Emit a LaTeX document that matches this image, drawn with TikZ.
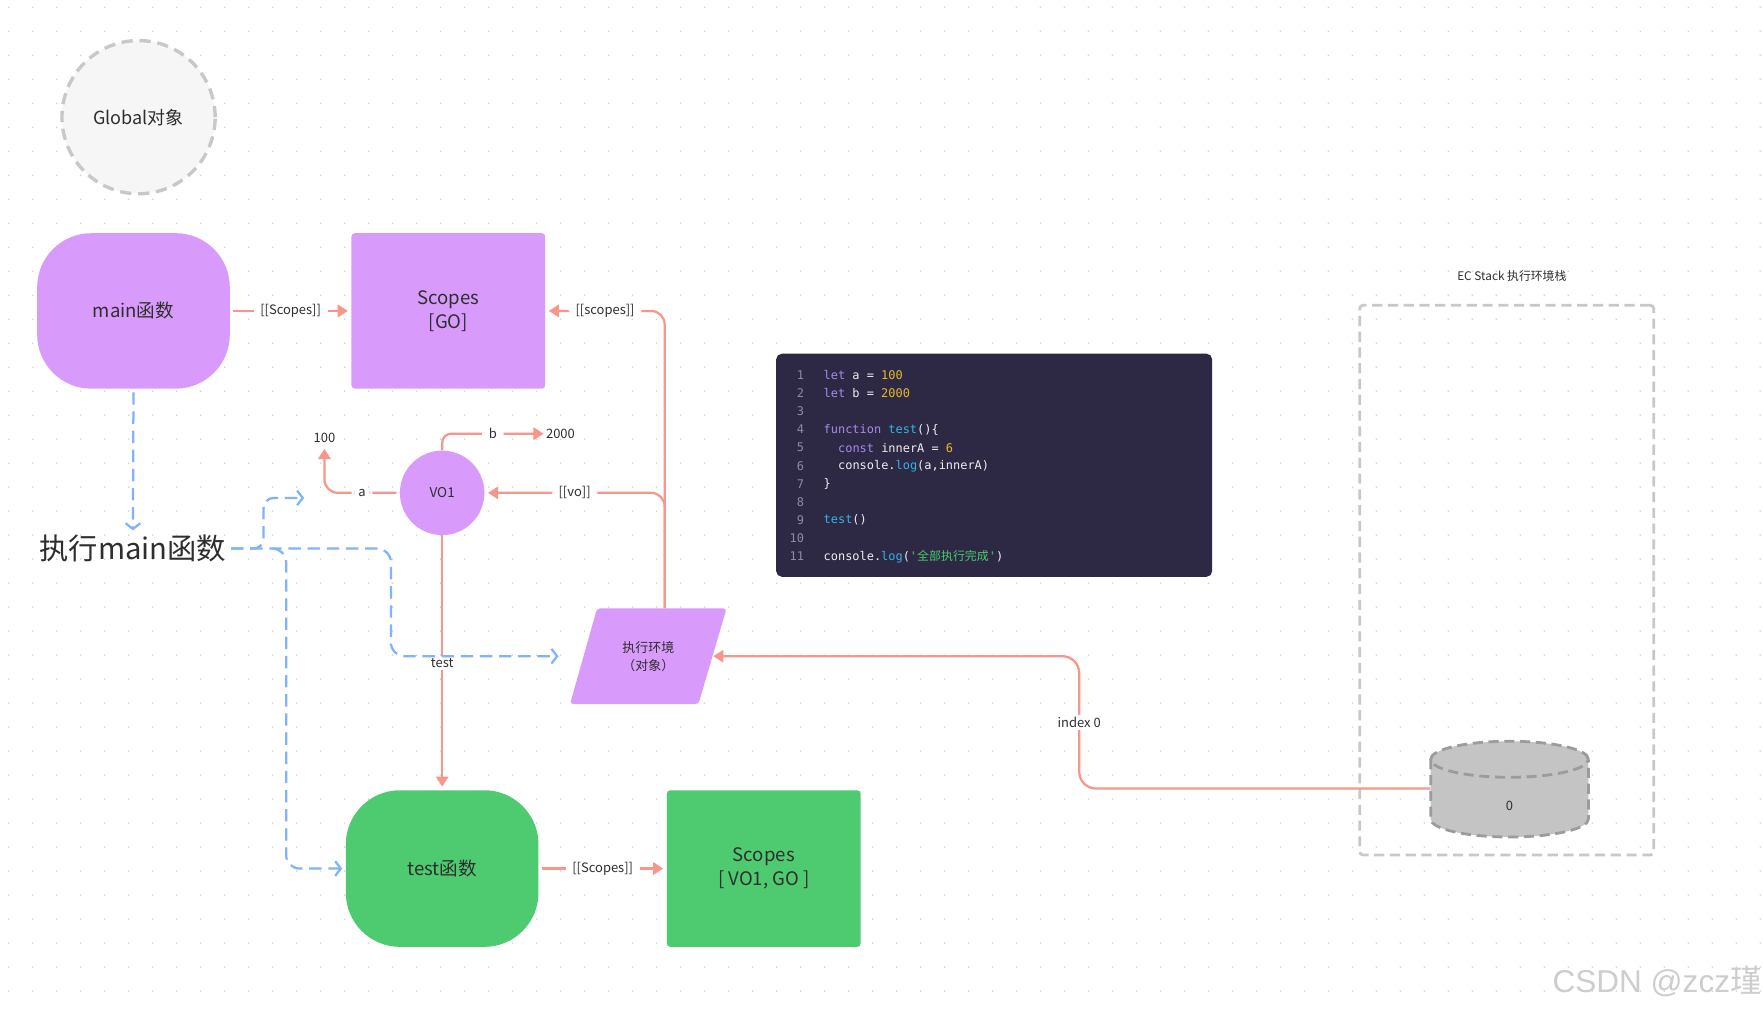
\documentclass[tikz,border=0pt]{standalone}
\usepackage{fontspec}
\setmainfont{Noto Sans CJK SC}
\newfontfamily\cjkfont{Noto Sans CJK SC}
\newfontfamily\codefont{DejaVu Sans Mono}[Ligatures=TeXOff]
\newfontfamily\wmfont{Liberation Sans}
\usetikzlibrary{arrows.meta,shapes.geometric}
\definecolor{purp}{HTML}{D99BFB}
\definecolor{grn}{HTML}{4ECB71}
\definecolor{salmon}{HTML}{F9968C}
\definecolor{bluec}{HTML}{80B2FF}
\definecolor{txt}{HTML}{2E2E2E}
\definecolor{dotc}{HTML}{D3D3D3}
\definecolor{dashgray}{HTML}{C8C8C8}
\definecolor{globfill}{HTML}{F6F6F6}
\definecolor{codebg}{HTML}{2D2843}
\definecolor{kwcol}{HTML}{A78BEA}
\definecolor{numcol}{HTML}{E8BA26}
\definecolor{fncol}{HTML}{33B5E5}
\definecolor{strcol}{HTML}{46CC6C}
\definecolor{plaincol}{HTML}{EEEEF2}
\definecolor{lncol}{HTML}{8E8BA3}
\definecolor{cylfill}{HTML}{C4C4C4}
\definecolor{cylline}{HTML}{9C9C9C}
\definecolor{wmcol}{HTML}{CDCDCD}
\newcommand\kwx[1]{\textcolor{kwcol}{#1}}
\newcommand\numx[1]{\textcolor{numcol}{#1}}
\newcommand\fnx[1]{\textcolor{fncol}{#1}}
\newcommand\strx[1]{\textcolor{strcol}{#1}}
\tikzset{
  shapebig/.style={text=txt, font=\fontsize{16.5}{21}\selectfont, align=center, inner sep=0pt},
  pnode/.style={shapebig, fill=purp},
  gnode/.style={shapebig, fill=grn},
  lbl/.style={fill=white, text=txt, font=\fontsize{11.5}{13}\selectfont, inner xsep=6pt, inner ysep=2pt},
  plain/.style={text=txt, font=\fontsize{11.5}{13}\selectfont, inner sep=2pt},
  conn/.style={draw=salmon, line width=2pt, -{Triangle[length=9pt,width=11pt]}},
  bconn/.style={draw=bluec, line width=2pt, dash pattern=on 11pt off 6pt, -{Straight Barb[length=5pt,width=13pt]}},
  codeln/.style={anchor=east, inner sep=0pt, text=lncol, font=\codefont\fontsize{10.6}{12}\selectfont},
  codetx/.style={anchor=west, inner sep=0pt, text=plaincol, font=\codefont\fontsize{10.6}{12}\selectfont},
  graydash/.style={draw=dashgray, line width=2.5pt, dash pattern=on 9pt off 5pt},
}
\begin{document}
\begin{tikzpicture}[x=1pt,y=-1pt]
\useasboundingbox (0,0) rectangle (1565,896.6);
\fill[white] (0,0) rectangle (1565,896.6);
\foreach \i in {0,...,73} {
  \foreach \j in {0,...,41} {
    \fill[dotc] (7.7+21.3*\i, 6.5+21.3*\j) circle[radius=0.8pt];
  }
}
% Global object
\node[circle, minimum size=136pt, inner sep=0pt, fill=globfill, draw=dashgray, line width=3pt, dash pattern=on 10pt off 6pt, text=txt, font=\fontsize{16}{19}\selectfont] (glob) at (123,104) {Global对象};
% main function and its scopes
\node[pnode, rounded corners=48pt, minimum width=171pt, minimum height=138pt] (main) at (118.5,276) {main函数};
\node[pnode, rounded corners=3pt, minimum width=172pt, minimum height=138pt] (scgo) at (398,276) {Scopes\\{}[GO]};
% execute main text
\node[text=txt, font=\fontsize{26}{30}\selectfont, inner sep=2pt] (exec) at (118,487) {执行main函数};
% VO1 and values
\node[circle, fill=purp, minimum size=75pt, inner sep=0pt, text=txt, font=\fontsize{12}{14}\selectfont] (vo1) at (392.5,437.5) {VO1};
\node[plain] (v100) at (288,389) {100};
\node[plain] (v2000) at (497.5,385) {2000};
% execution context (parallelogram)
\fill[purp, rounded corners=3pt] (506,625) -- (530,540) -- (645,540) -- (620,625) -- cycle;
\node[minimum width=115pt, minimum height=85pt, inner sep=0pt, text=txt, font=\fontsize{11.5}{16}\selectfont, align=center] (para) at (575.5,582.5) {执行环境\\（对象）};
% test function and its scopes
\node[gnode, rounded corners=48pt, minimum width=171pt, minimum height=139pt] (testfn) at (392.5,771) {test函数};
\node[gnode, rounded corners=3pt, minimum width=172pt, minimum height=139pt] (sc2) at (678,771) {Scopes\\{}[ VO1, GO ]};
% code block
\node[fill=codebg, rounded corners=5pt, minimum width=387pt, minimum height=198pt, inner sep=0pt] (code) at (882.5,413) {};
\foreach \k in {1,...,11} {
  \node[codeln] (ln\k) at (714,{333+16.1*(\k-1)}) {\k};
}
\node[codetx] (t1) at (731,333) {\kwx{let} a = \numx{100}};
\node[codetx] (t2) at (731,349.1) {\kwx{let} b = \numx{2000}};
\node[codetx] (t4) at (731,381.3) {\kwx{function} \fnx{test}()\{};
\node[codetx] (t5) at (743.8,397.4) {\kwx{const} innerA = \numx{6}};
\node[codetx] (t6) at (743.8,413.5) {console.\fnx{log}(a,innerA)};
\node[codetx] (t7) at (731,429.6) {\}};
\node[codetx] (t9) at (731,461.8) {\fnx{test}()};
\node[codetx] (t11) at (731,494) {console.\fnx{log}(\strx{'{\cjkfont 全部执行完成}'})};
% EC stack
\node[text=txt, font=\fontsize{10.5}{12}\selectfont, inner sep=1pt] (eclbl) at (1342,245) {EC Stack 执行环境栈};
\node[graydash, rounded corners=3pt, minimum width=261pt, minimum height=488pt, inner sep=0pt] (ecbox) at (1337.5,515) {};
% cylinder
\fill[cylfill] (1270,674) -- (1270,727) arc[start angle=180,end angle=360,x radius=70pt,y radius=16pt] -- (1410,674) arc[start angle=0,end angle=180,x radius=70pt,y radius=16pt] -- cycle;
\draw[draw=cylline, line width=2.5pt, dash pattern=on 9pt off 5pt] (1340,674) ellipse[x radius=70pt,y radius=16pt];
\draw[draw=cylline, line width=2.5pt, dash pattern=on 9pt off 5pt] (1270,674) -- (1270,727) arc[start angle=180,end angle=360,x radius=70pt,y radius=16pt] -- (1410,674);
\node[minimum width=140pt, minimum height=86pt, inner sep=0pt] (cyl) at (1340,700) {};
\node[plain] (cyl0) at (1340,715) {0};
% salmon connectors
\draw[conn, shorten <=3pt, shorten >=3pt] (main) -- node[lbl]{[[Scopes]]} (scgo);
\draw[conn, rounded corners=12pt, shorten >=3pt] ([xshift=14.5pt]para.north) |- node[lbl,pos=0.75]{[[scopes]]} (scgo.east);
\draw[conn, rounded corners=12pt, shorten >=3pt] ([xshift=14.5pt]para.north) |- node[lbl,pos=0.75]{[[vo]]} (vo1.east);
\draw[conn, rounded corners=12pt, shorten <=3pt, shorten >=3pt] (vo1.west) -| node[lbl,pos=0.25]{a} (v100.south);
\draw[conn, rounded corners=8pt] (vo1.north) |- node[lbl,pos=0.75]{b} (v2000.west);
\draw[conn, shorten >=3pt] (vo1.south) -- node[lbl]{test} (testfn.north);
\coordinate (ix) at (958,582.5);
\draw[conn, rounded corners=15pt, shorten >=0pt] (cyl.west) -| node[lbl,pos=0.75]{index 0} (ix) -- (para.east);
\draw[conn, shorten <=3pt, shorten >=3pt] (testfn) -- node[lbl]{[[Scopes]]} (sc2);
% blue dashed connectors
\draw[bconn, shorten <=3pt, shorten >=2pt] (main.south) -- (exec.north);
\coordinate (free1) at (270,442);
\coordinate (k1) at (234,442);
\draw[bconn, rounded corners=9pt, shorten <=2pt] (exec.east) -| (k1) -- (free1);
\coordinate (k2) at (347,582.5);
\draw[bconn, rounded corners=12pt, shorten <=2pt, shorten >=22pt] (exec.east) -| (k2) -- (para.west);
\coordinate (k3) at (242,487);
\coordinate (k4) at (254,771);
\draw[bconn, rounded corners=12pt, shorten >=3pt] (k3) -| (k4) -- (testfn.west);
% watermark
\node[text=wmcol, font=\wmfont\fontsize{28}{32}\selectfont, inner sep=0pt] (wm) at (1471,871) {CSDN @zcz{\cjkfont 瑾}};
\end{tikzpicture}
\end{document}
